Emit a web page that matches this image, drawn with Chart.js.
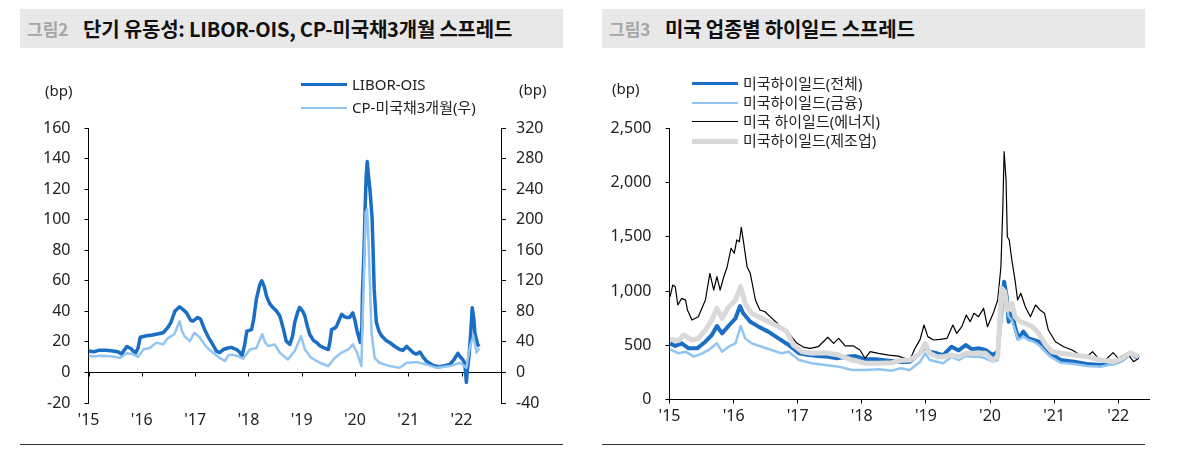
<!DOCTYPE html>
<html>
<head>
<meta charset="utf-8">
<script src="https://cdn.jsdelivr.net/npm/chart.js@4.4.1/dist/chart.umd.min.js"></script>
<style>
  body{margin:0;width:1185px;height:450px;background:#fff;position:relative;overflow:hidden;
       font-family:"Noto Sans","Noto Sans CJK KR",sans-serif;color:#222}
  .bar{position:absolute;top:9px;height:39px;background:#e8e8e8;white-space:nowrap}
  .bar .no{position:absolute;left:7px;top:0;line-height:39px;font-family:"Noto Sans CJK KR";font-weight:700;font-size:17px;color:#a6a6a6}
  .bar .tt{position:absolute;left:63px;top:0;line-height:39px;font-family:"Noto Sans CJK KR";font-weight:700;font-size:20px;color:#111;letter-spacing:-0.2px}
  .rule{position:absolute;top:444px;height:0;border-top:1.5px solid #333}
  .lbl{position:absolute;font-size:15px;line-height:20px;white-space:nowrap}
  .sw{position:absolute;width:46px}
  .box{position:absolute;top:0;height:450px}
</style>
</head>
<body>
<div class="bar" style="left:20px;width:543px"><span class="no">그림2</span><span class="tt">단기 유동성: LIBOR-OIS, CP-미국채3개월 스프레드</span></div>
<div class="bar" style="left:602px;width:543px"><span class="no">그림3</span><span class="tt">미국 업종별 하이일드 스프레드</span></div>
<div class="rule" style="left:20px;width:543px"></div>
<div class="rule" style="left:602px;width:543px"></div>

<div class="box" style="left:0;width:595px"><canvas id="c1"></canvas></div>
<div class="box" style="left:595px;width:590px"><canvas id="c2"></canvas></div>

<div class="lbl" style="left:45px;top:80px">(bp)</div>
<div class="lbl" style="left:519px;top:79px">(bp)</div>
<div class="lbl" style="left:612px;top:78px">(bp)</div>

<div id="leg1"></div>
<div id="leg2"></div>

<script>
// ---- data (decimal year, bp) ----
const yearTicks = [2015, 2016, 2017, 2018, 2019, 2020, 2021, 2022];

const liborOis = [
  [2015.00,14],[2015.10,13.5],[2015.20,14.6],[2015.33,14.5],[2015.46,14],[2015.55,13.5],[2015.62,12],
  [2015.68,15],[2015.72,17],[2015.80,15.5],[2015.88,12.5],[2015.93,16],[2015.97,23],[2016.09,24],
  [2016.20,24.5],[2016.27,25],[2016.40,26],[2016.49,29.5],[2016.55,33],[2016.62,40],[2016.71,43],
  [2016.78,41],[2016.84,39],[2016.92,34],[2016.96,33.6],[2017.05,36],[2017.10,35],[2017.18,28],
  [2017.25,23],[2017.31,19.6],[2017.40,14],[2017.46,13],[2017.53,15],[2017.62,16],[2017.68,16.4],
  [2017.78,15],[2017.84,13],[2017.88,10.7],[2017.93,18],[2017.97,27],[2018.06,28],[2018.10,35],
  [2018.15,48],[2018.21,57],[2018.25,60],[2018.30,56],[2018.34,50],[2018.40,45],[2018.46,42.5],
  [2018.53,40],[2018.59,37],[2018.66,28],[2018.71,20.5],[2018.78,18.4],[2018.83,24],[2018.87,32.8],
  [2018.93,40],[2018.96,42.6],[2019.02,40],[2019.06,37],[2019.10,31],[2019.15,25],[2019.22,21],
  [2019.28,19.6],[2019.34,17.5],[2019.40,16.4],[2019.46,15.5],[2019.50,15],[2019.53,20],[2019.56,28],
  [2019.62,29],[2019.65,30],[2019.70,34],[2019.75,38],[2019.80,36.5],[2019.84,36],[2019.90,36],
  [2019.96,39],[2020.00,34],[2020.04,27],[2020.10,19.6],[2020.13,30],[2020.14,52],[2020.17,80],
  [2020.19,107],[2020.21,128],[2020.23,138],[2020.25,130],[2020.28,120],[2020.32,102],[2020.34,80],
  [2020.36,55],[2020.40,33],[2020.45,27],[2020.50,24],[2020.58,21],[2020.65,19.6],[2020.75,17],
  [2020.84,15],[2020.90,14.5],[2020.97,17],[2021.03,15],[2021.09,13],[2021.15,12],[2021.22,13.3],
  [2021.28,10],[2021.34,7.4],[2021.40,6],[2021.47,4.6],[2021.53,4],[2021.59,3.7],[2021.70,4.5],
  [2021.78,5.2],[2021.85,8],[2021.93,12.5],[2021.98,10],[2022.03,8],[2022.06,6],[2022.08,-2],
  [2022.09,-6.5],[2022.11,2],[2022.14,10.7],[2022.17,25],[2022.20,42.4],[2022.23,35],[2022.25,26],
  [2022.30,18.4],[2022.33,17]
];
// right axis
const cpTreasury3m = [
  [2015.00,22],[2015.10,21],[2015.20,22],[2015.33,21.5],[2015.46,21],[2015.59,19],[2015.66,22],
  [2015.71,25],[2015.83,24],[2015.93,20.5],[2016.03,30],[2016.15,32],[2016.27,39],[2016.40,36.7],
  [2016.49,45],[2016.61,50],[2016.71,67],[2016.75,55],[2016.80,47.6],[2016.90,41],[2016.99,52],
  [2017.09,45.5],[2017.20,34.5],[2017.33,26],[2017.46,19],[2017.56,15],[2017.62,22],[2017.68,23.6],
  [2017.80,21.4],[2017.90,18],[2018.03,30],[2018.15,32],[2018.26,50],[2018.31,40],[2018.37,34.5],
  [2018.49,36.7],[2018.59,26],[2018.67,21],[2018.74,17],[2018.87,28],[2018.99,47.6],[2019.06,30],
  [2019.18,19],[2019.34,12.7],[2019.50,8.3],[2019.62,19],[2019.75,26],[2019.87,30],[2019.96,36.7],
  [2020.04,26],[2020.12,8.3],[2020.16,109],[2020.20,209],[2020.23,214],[2020.26,161],[2020.31,52],
  [2020.37,19],[2020.46,12.7],[2020.65,8.3],[2020.84,6],[2020.97,12.7],[2021.15,13.5],[2021.34,10.5],
  [2021.53,6],[2021.78,8.3],[2021.97,12.7],[2022.09,6],[2022.16,34.5],[2022.22,47.6],[2022.28,26],
  [2022.33,32]
];

const hyTotal = [
  [2015.01,518],[2015.09,494],[2015.19,518],[2015.30,472],[2015.43,472],[2015.56,533],[2015.66,595],
  [2015.74,678],[2015.82,610],[2015.92,678],[2016.03,749],[2016.10,862],[2016.15,795],[2016.26,718],
  [2016.39,672],[2016.54,626],[2016.70,564],[2016.86,503],[2017.02,426],[2017.17,410],[2017.32,401],
  [2017.48,395],[2017.61,380],[2017.77,395],[2017.90,401],[2018.05,371],[2018.21,371],[2018.42,358],
  [2018.63,345],[2018.75,349],[2018.91,426],[2018.99,487],[2019.06,441],[2019.17,426],[2019.27,410],
  [2019.40,487],[2019.51,452],[2019.62,503],[2019.72,463],[2019.83,472],[2019.93,457],[2020.04,410],
  [2020.12,441],[2020.17,795],[2020.22,1087],[2020.26,948],[2020.29,718],[2020.34,795],[2020.39,672],
  [2020.44,564],[2020.52,626],[2020.60,564],[2020.68,549],[2020.76,533],[2020.83,503],[2020.94,426],
  [2021.10,364],[2021.31,349],[2021.51,328],[2021.72,318],[2021.93,334],[2022.06,364],[2022.19,426],
  [2022.32,380]
];
const hyFinancial = [
  [2015.01,463],[2015.14,426],[2015.25,441],[2015.38,395],[2015.51,426],[2015.61,457],[2015.74,518],
  [2015.82,441],[2015.92,487],[2016.03,518],[2016.11,678],[2016.18,564],[2016.28,518],[2016.44,487],
  [2016.59,457],[2016.75,426],[2016.86,441],[2017.02,364],[2017.22,334],[2017.43,318],[2017.64,303],
  [2017.85,272],[2018.05,272],[2018.26,278],[2018.47,266],[2018.60,288],[2018.75,272],[2018.91,349],
  [2018.99,426],[2019.06,364],[2019.17,349],[2019.27,334],[2019.40,395],[2019.51,364],[2019.62,401],
  [2019.72,395],[2019.83,395],[2019.93,380],[2020.04,349],[2020.12,364],[2020.17,672],[2020.23,980],
  [2020.29,764],[2020.34,733],[2020.39,641],[2020.44,549],[2020.52,580],[2020.60,549],[2020.68,533],
  [2020.76,503],[2020.83,457],[2020.94,395],[2021.10,340],[2021.31,328],[2021.51,309],[2021.72,303],
  [2021.93,328],[2022.06,358],[2022.19,432],[2022.32,389]
];
const hyEnergy = [
  [2015.01,948],[2015.05,1056],[2015.09,1040],[2015.13,872],[2015.19,933],[2015.25,917],[2015.28,826],
  [2015.35,733],[2015.45,764],[2015.56,918],[2015.63,1164],[2015.69,1010],[2015.74,1133],[2015.79,1010],
  [2015.84,1118],[2015.90,1225],[2015.96,1395],[2016.01,1349],[2016.05,1472],[2016.09,1455],
  [2016.12,1589],[2016.15,1472],[2016.21,1225],[2016.26,1164],[2016.34,918],[2016.41,826],[2016.49,810],
  [2016.57,764],[2016.68,703],[2016.78,641],[2016.88,595],[2016.99,518],[2017.10,480],[2017.20,472],
  [2017.32,487],[2017.47,574],[2017.56,518],[2017.64,564],[2017.74,494],[2017.87,494],[2017.97,457],
  [2018.05,380],[2018.13,441],[2018.26,426],[2018.42,410],[2018.57,400],[2018.75,364],[2018.83,472],
  [2018.91,555],[2018.97,687],[2019.03,580],[2019.12,549],[2019.22,555],[2019.33,564],[2019.42,687],
  [2019.48,610],[2019.56,672],[2019.63,780],[2019.69,718],[2019.75,795],[2019.82,764],[2019.90,841],
  [2019.96,672],[2020.05,795],[2020.12,918],[2020.17,1225],[2020.20,1779],[2020.22,2286],[2020.25,2025],
  [2020.27,1502],[2020.30,1471],[2020.34,1287],[2020.39,1102],[2020.43,918],[2020.48,980],[2020.55,856],
  [2020.63,764],[2020.71,872],[2020.78,826],[2020.85,795],[2020.91,641],[2021.02,533],[2021.15,487],
  [2021.28,457],[2021.41,410],[2021.51,395],[2021.60,441],[2021.69,380],[2021.80,364],[2021.92,432],
  [2022.00,380],[2022.14,426],[2022.24,349],[2022.32,380]
];
const hyManufacturing = [
  [2015.01,555],[2015.14,543],[2015.22,595],[2015.35,549],[2015.45,564],[2015.56,641],[2015.66,733],
  [2015.74,841],[2015.82,749],[2015.92,850],[2016.03,918],[2016.11,1041],[2016.18,887],[2016.28,795],
  [2016.44,749],[2016.59,703],[2016.75,657],[2016.83,626],[2016.93,503],[2017.07,441],[2017.22,426],
  [2017.43,432],[2017.64,410],[2017.85,364],[2018.05,334],[2018.26,334],[2018.47,340],[2018.60,360],
  [2018.75,364],[2018.91,426],[2018.99,518],[2019.06,426],[2019.17,395],[2019.27,395],[2019.40,410],
  [2019.51,395],[2019.62,426],[2019.72,426],[2019.83,426],[2019.93,426],[2020.04,364],[2020.12,395],
  [2020.18,1026],[2020.23,995],[2020.27,826],[2020.34,887],[2020.39,764],[2020.47,718],[2020.55,703],
  [2020.66,672],[2020.76,610],[2020.87,503],[2020.97,441],[2021.10,426],[2021.31,410],[2021.51,395],
  [2021.72,364],[2021.93,349],[2022.06,380],[2022.19,432],[2022.32,395]
];

const DARK = '#1a6ec3', LIGHT = '#93c5f1', GRAY = '#d9d9d9';
const tickFont = { family: 'Noto Sans', size: 16 };
const pts = (arr) => arr.map(([x, y]) => ({ x, y }));
const yearLabel = (v) => "'" + String(v).slice(2);

// legends (html)
function legend(el, items, left, textLeft){
  el.innerHTML = items.map(it =>
    `<div class="sw" style="left:${left}px;top:${it.y - it.w/2}px;border-top:${it.w}px solid ${it.c}"></div>` +
    `<div class="lbl" style="left:${textLeft}px;top:${it.y - 11}px">${it.t}</div>`).join('');
}
legend(document.getElementById('leg1'), [
  { t:'LIBOR-OIS', c:DARK, w:3.5, y:85 },
  { t:'CP-미국채3개월(우)', c:LIGHT, w:2.5, y:108 }
], 301, 352);
legend(document.getElementById('leg2'), [
  { t:'미국하이일드(전체)', c:DARK, w:3.5, y:84 },
  { t:'미국하이일드(금융)', c:LIGHT, w:2.5, y:103 },
  { t:'미국 하이일드(에너지)', c:'#000', w:1.2, y:122 },
  { t:'미국하이일드(제조업)', c:GRAY, w:5, y:141 }
], 692, 743);

// zero line with year ticks for the left chart
const zeroAxis = {
  id: 'zeroAxis',
  beforeDatasetsDraw(chart){
    const { ctx, chartArea: a, scales: { x, y } } = chart;
    const y0 = Math.round(y.getPixelForValue(0)) + 0.5;
    ctx.save();
    ctx.strokeStyle = '#000';
    ctx.lineWidth = 1;
    ctx.beginPath();
    ctx.moveTo(a.left, y0); ctx.lineTo(a.right, y0);
    yearTicks.forEach(v => {
      const px = Math.round(x.getPixelForValue(v)) + 0.5;
      ctx.moveTo(px, y0); ctx.lineTo(px, y0 + 4);
    });
    ctx.stroke();
    ctx.restore();
  }
};

const yearAxis = (max, opts) => Object.assign({
  type: 'linear', min: 2015, max,
  afterBuildTicks: (s) => { s.ticks = yearTicks.map(v => ({ value: v })); },
  ticks: { callback: yearLabel, font: tickFont, color: '#222', maxRotation: 0, autoSkip: false },
  afterFit: (s) => { s.height = 30; }
}, opts);

const yAxis = (o) => ({
  type: 'linear', position: o.pos, min: o.min, max: o.max,
  ticks: { stepSize: o.step, font: tickFont, color: '#222', padding: o.pad },
  grid: { drawOnChartArea: false, drawTicks: true, tickLength: o.tl, color: '#000' },
  border: { display: true, color: '#000', width: 1 },
  afterFit: (s) => { s.width = o.w; }
});

const common = {
  responsive: true, maintainAspectRatio: false, animation: false,
  plugins: { legend: { display: false }, tooltip: { enabled: false } },
  elements: { point: { radius: 0 }, line: { tension: 0, borderJoinStyle: 'round' } }
};

new Chart(document.getElementById('c1'), {
  type: 'line',
  data: { datasets: [
    { label: 'LIBOR-OIS', data: pts(liborOis), borderColor: DARK, borderWidth: 3.5, yAxisID: 'y', order: 2 },
    { label: 'CP-미국채3개월(우)', data: pts(cpTreasury3m), borderColor: LIGHT, borderWidth: 2.5, yAxisID: 'y1', order: 1 }
  ]},
  options: Object.assign({}, common, {
    layout: { padding: { top: 128, left: 0, right: 34, bottom: 17 } },
    scales: {
      x: yearAxis(2022.74, { grid: { display: false, drawTicks: false }, border: { display: false },
        ticks: { callback: yearLabel, font: tickFont, color: '#222', maxRotation: 0, autoSkip: false, padding: 8 } }),
      y: yAxis({ pos: 'left', min: -20, max: 160, step: 20, pad: 14, tl: 4, w: 88.5 }),
      y1: yAxis({ pos: 'right', min: -40, max: 320, step: 40, pad: 10, tl: 5, w: 60 })
    }
  }),
  plugins: [zeroAxis]
});

new Chart(document.getElementById('c2'), {
  type: 'line',
  data: { datasets: [
    { label: '미국하이일드(전체)', data: pts(hyTotal), borderColor: DARK, borderWidth: 4, order: 4 },
    { label: '미국하이일드(금융)', data: pts(hyFinancial), borderColor: LIGHT, borderWidth: 2.5, order: 3 },
    { label: '미국 하이일드(에너지)', data: pts(hyEnergy), borderColor: '#000', borderWidth: 1.2, order: 2 },
    { label: '미국하이일드(제조업)', data: pts(hyManufacturing), borderColor: GRAY, borderWidth: 5, order: 1 }
  ]},
  options: Object.assign({}, common, {
    layout: { padding: { top: 128.5, left: 0, right: 36, bottom: 20.5 } },
    scales: {
      x: yearAxis(2022.48, { grid: { drawOnChartArea: false, drawTicks: true, tickLength: 4, color: '#000' },
        border: { display: true, color: '#000', width: 1 },
        ticks: { callback: yearLabel, font: tickFont, color: '#222', maxRotation: 0, autoSkip: false, padding: 3 } }),
      y: yAxis({ pos: 'left', min: 0, max: 2500, step: 500, pad: 14, tl: 4, w: 74.5 })
    }
  })
});
</script>
</body>
</html>
